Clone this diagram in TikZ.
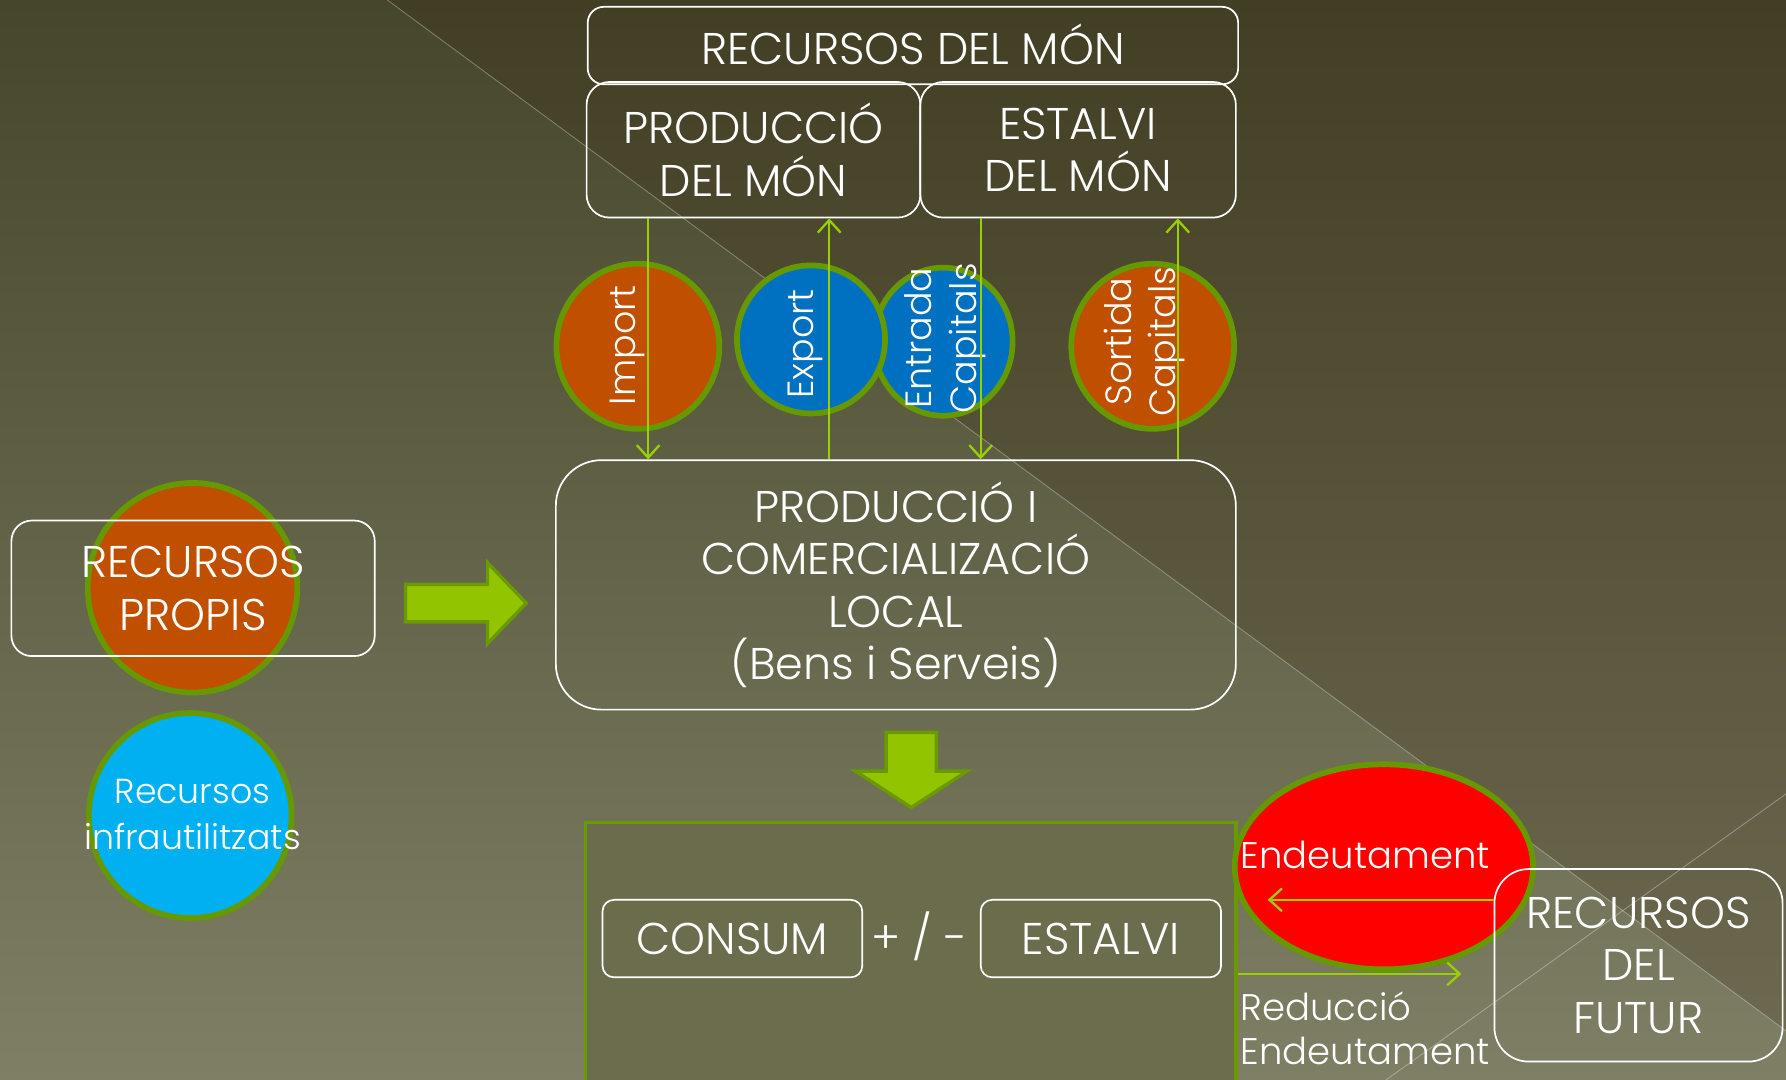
\documentclass[tikz,border=0pt]{standalone}
\usepackage{fontspec}
\setmainfont{Poppins}[UprightFont=* Light]
\usetikzlibrary{shapes.geometric,arrows.meta}
\definecolor{bgtop}{HTML}{45462A}
\definecolor{bgbot}{HTML}{7E7F64}
\definecolor{orng}{HTML}{C04F00}
\definecolor{blu}{HTML}{0070C0}
\definecolor{cyn}{HTML}{00B0F0}
\definecolor{ellg}{HTML}{669900}
\definecolor{flowg}{HTML}{99D000}
\definecolor{arrf}{HTML}{92C400}
\definecolor{arrb}{HTML}{6A9A00}
\definecolor{botf}{HTML}{6A6C4B}
\newcommand\fbig{\fontsize{39}{46}\selectfont}
\newcommand\fmid{\fontsize{32.5}{39}\selectfont}
\newcommand\frot{\fontsize{32}{39}\selectfont}
\newcommand\finf{\fontsize{30.5}{40}\selectfont}
\begin{document}
\begin{tikzpicture}[x=1pt,y=-1pt,
  wbox/.style={draw=white, line width=1.5pt, align=center, text=white, inner sep=0pt, font=\fbig},
  ell/.style={ellipse, draw=ellg, line width=5pt, inner sep=0pt},
  lbl/.style={text=white, inner sep=0pt},
  flow/.style={draw=flowg, line width=2pt, -{Straight Barb[length=11pt,width=20pt]}},
  blockarr/.style={fill=arrf, draw=arrb, line width=3pt, line join=miter}]
\useasboundingbox (0,0) rectangle (1568,948);
% background
\shade[top color=bgtop, bottom color=bgbot] (0,0) rectangle (1568,948);
\fill[black!70!brown, opacity=0.22] (340,0) -- (1568,0) -- (1568,905) -- cycle;
\draw[white, opacity=0.3, line width=0.8pt] (340,0) -- (1568,905);
\draw[white, opacity=0.3, line width=0.8pt] (1217,948) -- (1568,697);

% top boxes
\node[wbox, minimum width=571pt, minimum height=68pt, rounded corners=14pt] (mon) at (801.5,40) {\raisebox{2pt}{RECURSOS DEL MÓN}};
\node[wbox, minimum width=293pt, minimum height=119pt, rounded corners=20pt] (pmon) at (661.5,131.5) {PRODUCCIÓ\\DEL MÓN};
\node[wbox, minimum width=277pt, minimum height=119pt, rounded corners=20pt] (emon) at (946.5,131.5) {ESTALVI\\DEL MÓN};

% ellipses of flows
\node[ell, fill=orng, minimum width=143pt, minimum height=145pt] (imp) at (560,304) {};
\node[ell, fill=blu, minimum width=122pt, minimum height=130pt] (ent) at (828,300) {};
\node[ell, fill=blu, minimum width=130pt, minimum height=130pt] (exp) at (712,298) {};
\node[ell, fill=orng, minimum width=143pt, minimum height=145pt] (sor) at (1012,304) {};
\node[lbl, rotate=90, font=\frot] (impt) at (551,303) {Import};
\node[lbl, rotate=90, font=\frot] (expt) at (707,302) {Export};
\node[lbl, rotate=90, font=\frot, align=center] (entt) at (830,297) {Entrada\\Capitals};
\node[lbl, rotate=90, font=\frot, align=center] (sort) at (1005,300) {Sortida\\Capitals};

% local production
\node[wbox, minimum width=597pt, minimum height=219pt, rounded corners=40pt] (loc) at (786.5,513.5) {PRODUCCIÓ I\\COMERCIALIZACIÓ\\LOCAL\\(Bens i Serveis)};

% flows
\coordinate (xI) at (569,0);
\coordinate (xE) at (728,0);
\coordinate (xC) at (861,0);
\coordinate (xS) at (1034,0);
\draw[flow] (pmon.south -| xI) -- (loc.north -| xI);
\draw[flow] (loc.north -| xE) -- (pmon.south -| xE);
\draw[flow] (emon.south -| xC) -- (loc.north -| xC);
\draw[flow] (loc.north -| xS) -- (emon.south -| xS);

% own resources
\node[ell, fill=orng, minimum width=184pt, minimum height=184pt] (propc) at (169,516) {};
\node[wbox, minimum width=319pt, minimum height=119pt, rounded corners=18pt] (prop) at (169.5,516.5) {RECURSOS\\PROPIS};
\node[ell, fill=cyn, minimum width=178pt, minimum height=180pt] (infc) at (167,716) {};
\node[lbl, font=\finf, align=center] (inft) at (169,715) {Recursos\\infrautilitzats};

% block arrows
\draw[blockarr] (356,513) -- (428,513) -- (428,494) -- (462,529.5) -- (428,565) -- (428,546) -- (356,546) -- cycle;
\draw[blockarr] (778,643) -- (822,643) -- (822,677) -- (849,677) -- (800,709) -- (751,677) -- (778,677) -- cycle;

% bottom box
\node[draw=arrb, line width=3pt, fill=botf, fill opacity=0.9, minimum width=571pt, minimum height=240pt, inner sep=0pt] (bot) at (799.5,842) {};
\node[wbox, minimum width=228pt, minimum height=68pt, rounded corners=10pt] (cons) at (643,824) {CONSUM};
\node[lbl, font=\fbig] (pm) at (807,822) {+ / -};
\node[wbox, minimum width=211pt, minimum height=68pt, rounded corners=10pt] (est) at (966.5,824) {ESTALVI};

% debt
\node[ell, fill=red, minimum width=262pt, minimum height=180pt] (deut) at (1215,761) {};
\node[lbl, font=\fmid, anchor=west] (deutt) at (1089,751) {Endeutament};
\node[wbox, minimum width=253pt, minimum height=169pt, rounded corners=30pt] (fut) at (1438.5,847.5) {RECURSOS\\DEL\\FUTUR};
\coordinate (endA) at (1113,790);
\coordinate (endR) at (1283,855);
\draw[flow] (fut.west |- endA) -- (endA);
\draw[flow] (bot.east |- endR) -- (endR);
\node[lbl, font=\fmid, anchor=west, align=left] (redt) at (1089,903) {Reducció\\Endeutament};
\end{tikzpicture}
\end{document}
